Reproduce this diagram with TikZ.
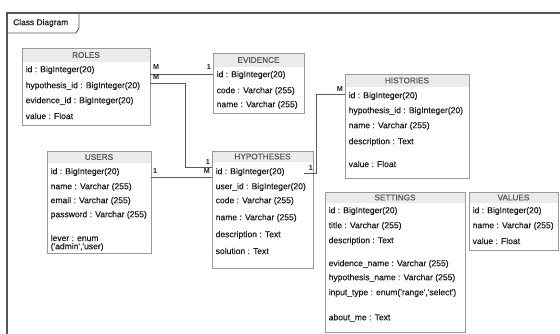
\documentclass[tikz,border=0pt]{standalone}
\usepackage{fontspec}
\setmainfont{Liberation Sans}
\newfontfamily\heavyfont{Liberation Sans}[FakeBold=0.45]
\definecolor{boxgray}{HTML}{9A9A9A}
\definecolor{hdrfill}{HTML}{EBEBEB}
\definecolor{linegray}{HTML}{5A5A5A}
\definecolor{framegray}{HTML}{555555}
\definecolor{txt}{HTML}{1E1E1E}
\newcommand{\q}{\textquotesingle}
\newcommand{\dbtable}[7]{%
  \node[tbl, minimum width={(#4-#2)*1pt}, minimum height={(#5-#3)*1pt}] (#1) at (#2,#3) {};
  \fill[hdrfill] ([shift={(0.5,0.5)}]#1.north west) rectangle (#1.east |- 0,#6);
  \draw[boxgray, line width=0.8pt] (#1.north west) rectangle (#1.south east);
  \node[ttl] (#1-title) at (#1.north |- 0,{(#3+#6)/2}) {#7};
}
\newcommand{\fld}[4]{\node[fieldtxt] (#1) at ([xshift=3.5pt]#2.west |- 0,#3) {#4};}
\begin{document}
\begin{tikzpicture}[x=1pt,y=-1pt,
  tbl/.style={draw=boxgray, line width=0.8pt, fill=white, anchor=north west, inner sep=0pt, outer sep=0pt},
  ttl/.style={font=\heavyfont\fontsize{8.2}{9}\selectfont, text=txt!75, inner sep=0pt},
  fieldtxt/.style={font=\heavyfont\fontsize{8.55}{9}\selectfont, text=txt, anchor=west, inner sep=0pt},
  conn/.style={draw=linegray, line width=0.9pt},
  card/.style={font=\bfseries\fontsize{7.2}{8}\selectfont, text=txt, inner sep=0pt}]
\useasboundingbox (0,0) rectangle (560,334);
% frame
\draw[framegray, line width=1.1pt] (7,334) -- (7,13) -- (560,13);
\draw[framegray, line width=0.9pt] (7,33) -- (76,33) -- (79,28) -- (79,13);
\node[font=\heavyfont\fontsize{8.4}{9}\selectfont, text=txt, anchor=west, inner sep=0pt] (frametitle) at (13,23) {Class Diagram};

% tables
\dbtable{roles}{22}{48}{150}{125}{62}{ROLES}
\fld{roles-a}{roles}{70}{id : BigInteger(20)}
\fld{roles-b}{roles}{86}{hypothesis\_id : BigInteger(20)}
\fld{roles-c}{roles}{101}{evidence\_id : BigInteger(20)}
\fld{roles-d}{roles}{116}{value : Float}

\dbtable{evid}{213}{53}{304}{113}{67}{EVIDENCE}
\fld{evid-a}{evid}{75}{id : BigInteger(20)}
\fld{evid-b}{evid}{91}{code : Varchar (255)}
\fld{evid-c}{evid}{105}{name : Varchar (255)}

\dbtable{hist}{345}{74}{469}{178}{87}{HISTORIES}
\fld{hist-a}{hist}{96}{id : BigInteger(20)}
\fld{hist-b}{hist}{111}{hypothesis\_id : BigInteger(20)}
\fld{hist-c}{hist}{126}{name : Varchar (255)}
\fld{hist-d}{hist}{142}{description : Text}
\fld{hist-e}{hist}{164}{value : Float}

\dbtable{users}{47}{151}{151}{253}{163}{USERS}
\fld{users-a}{users}{172}{id : BigInteger(20)}
\fld{users-b}{users}{187}{name : Varchar (255)}
\fld{users-c}{users}{201}{email : Varchar (255)}
\fld{users-d}{users}{215}{password : Varchar (255)}
\fld{users-e}{users}{238}{lever : enum}
\fld{users-f}{users}{247}{(\q admin\q,\q user)}

\dbtable{hyp}{212}{151}{313}{268}{162}{HYPOTHESES}
\fld{hyp-a}{hyp}{172}{id : BigInteger(20)}
\fld{hyp-b}{hyp}{187}{user\_id : BigInteger(20)}
\fld{hyp-c}{hyp}{201}{code : Varchar (255)}
\fld{hyp-d}{hyp}{218}{name : Varchar (255)}
\fld{hyp-e}{hyp}{235}{description : Text}
\fld{hyp-f}{hyp}{251}{solution : Text}

\dbtable{sett}{325}{192}{465}{332}{203}{SETTINGS}
\fld{sett-a}{sett}{211}{id : BigInteger(20)}
\fld{sett-b}{sett}{226}{title : Varchar (255)}
\fld{sett-c}{sett}{241}{description : Text}
\fld{sett-d}{sett}{264}{evidence\_name : Varchar (255)}
\fld{sett-e}{sett}{278}{hypothesis\_name : Varchar (255)}
\fld{sett-f}{sett}{293}{input\_type : enum(\q range\q,\q select\q)}
\fld{sett-g}{sett}{318}{about\_me : Text}

\dbtable{vals}{469}{192}{558}{250}{203}{VALUES}
\fld{vals-a}{vals}{211}{id : BigInteger(20)}
\fld{vals-b}{vals}{226}{name : Varchar (255)}
\fld{vals-c}{vals}{241}{value : Float}

% connectors
\draw[conn] (roles.east |- 0,74) -- (evid.west |- 0,74);
\node[card, anchor=west] (c1a) at (153,67) {M};
\node[card, anchor=east] (c1b) at (211,67) {1};

\coordinate (k2) at (185,83);
\draw[conn] (roles.east |- k2) -- (k2) -- (k2 |- 0,167) -- (hyp.west |- 0,167);
\node[card, anchor=west] (c2a) at (153,77.5) {M};
\node[card, anchor=east] (c2b) at (210,162) {1};

\draw[conn] (users.east |- 0,177) -- (hyp.west |- 0,177);
\node[card, anchor=west] (c3a) at (153,171) {1};
\node[card, anchor=east] (c3b) at (210,171.5) {M};

\coordinate (k4) at (316,94);
\draw[conn] (304,173) -- (k4 |- 0,173) -- (k4) -- (hist.west |- k4);
\node[card, anchor=east] (c4a) at (313,168.5) {1};
\node[card, anchor=east] (c4b) at (343,89.5) {M};
\end{tikzpicture}
\end{document}
